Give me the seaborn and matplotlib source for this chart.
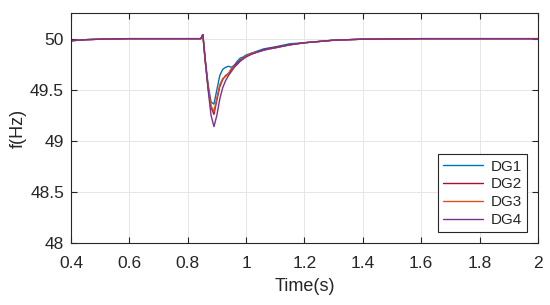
import pandas as pd
import numpy as np
import matplotlib
matplotlib.use("Agg")
import matplotlib.pyplot as plt
import seaborn as sns

# values
time = [0.40, 0.45, 0.50, 0.60, 0.80, 0.845, 0.852,
        0.86, 0.87, 0.88, 0.89, 0.90, 0.91, 0.92, 0.93, 0.94, 0.95, 0.96,
        0.97, 0.98, 0.99, 1.00, 1.02, 1.04, 1.06, 1.08, 1.10, 1.15,
        1.20, 1.30, 1.40, 1.60, 2.00]
dg1 = [49.98, 49.99, 49.995, 50.0, 50.0, 50.0, 50.04,
       49.80, 49.55, 49.38, 49.36, 49.50, 49.64, 49.70, 49.72, 49.73, 49.72,
       49.74, 49.78, 49.81, 49.82, 49.84, 49.86, 49.88, 49.90, 49.91, 49.92,
       49.95, 49.96, 49.985, 49.995, 50.0, 50.0]
dg2 = [49.98, 49.99, 49.995, 50.0, 50.0, 50.0, 50.04,
       49.78, 49.52, 49.33, 49.26, 49.40, 49.53, 49.60, 49.64, 49.66, 49.70,
       49.74, 49.76, 49.79, 49.81, 49.83, 49.85, 49.87, 49.89, 49.905, 49.915,
       49.94, 49.96, 49.985, 49.995, 50.0, 50.0]
dg3 = [49.98, 49.99, 49.995, 50.0, 50.0, 50.0, 50.04,
       49.78, 49.53, 49.34, 49.29, 49.42, 49.55, 49.61, 49.63, 49.66, 49.71,
       49.73, 49.75, 49.78, 49.81, 49.83, 49.86, 49.87, 49.885, 49.90, 49.91,
       49.94, 49.96, 49.985, 49.995, 50.0, 50.0]
dg4 = [49.98, 49.99, 49.995, 50.0, 50.0, 50.0, 50.04,
       49.80, 49.50, 49.25, 49.14, 49.25, 49.41, 49.52, 49.59, 49.64, 49.68,
       49.72, 49.75, 49.78, 49.80, 49.82, 49.85, 49.87, 49.89, 49.90, 49.91,
       49.94, 49.96, 49.985, 49.995, 50.0, 50.0]

names = ["DG1", "DG2", "DG3", "DG4"]
colors = ["#0072BD", "#A2142F", "#D95319", "#7E2F8E"]

df = pd.concat([pd.DataFrame({"t": time, "f": v, "DG": n})
                for n, v in zip(names, [dg1, dg2, dg3, dg4])])

sns.set_style("whitegrid")
plt.rcParams["font.family"] = ["Liberation Sans", "DejaVu Sans"]

fig = plt.figure(figsize=(5.5, 3.05), dpi=100)
ax = fig.add_axes([0.129, 0.203, 0.849, 0.754])
sns.lineplot(data=df, x="t", y="f", hue="DG", palette=colors, linewidth=1.0, ax=ax)

ax.set_xlim(0.4, 2)
ax.set_ylim(48, 50.25)
ax.set_xticks(np.arange(0.4, 2.01, 0.2))
ax.set_xticklabels(["0.4", "0.6", "0.8", "1", "1.2", "1.4", "1.6", "1.8", "2"])
ax.set_yticks([48, 48.5, 49, 49.5, 50])
ax.set_yticklabels(["48", "48.5", "49", "49.5", "50"])
ax.set_xlabel("Time(s)", fontsize=13, labelpad=5)
ax.set_ylabel("f(Hz)", fontsize=13, labelpad=2)
ax.tick_params(labelsize=12.5, direction="in", length=4, top=True, right=True,
               bottom=True, left=True, color="#262626")
ax.tick_params(axis="x", pad=9)
ax.tick_params(axis="y", pad=5)
ax.grid(color="#e6e6e6", linewidth=0.7)
for s in ax.spines.values():
    s.set_color("#262626")
    s.set_linewidth(0.8)

leg = ax.legend(loc="lower right", fontsize=11, frameon=True, fancybox=False,
                edgecolor="#262626", framealpha=1, handlelength=2.6,
                borderaxespad=0.7, labelspacing=0.25, borderpad=0.35,
                handletextpad=0.5, title=None)
leg.get_frame().set_linewidth(0.8)

fig.savefig("out.png", dpi=100)
